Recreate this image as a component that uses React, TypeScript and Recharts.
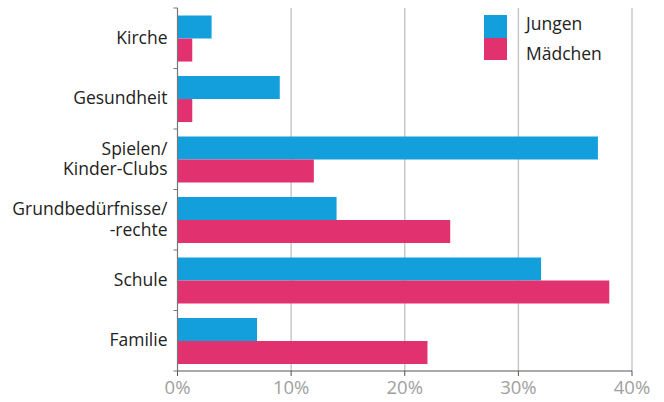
import React from "react"
import { BarChart, Bar, XAxis, YAxis, CartesianGrid, Legend } from "recharts"

const categories = ["Kirche", "Gesundheit", "Spielen/\nKinder-Clubs", "Grundbedürfnisse/\n-rechte", "Schule", "Familie"]
const jungen = [3, 9, 37, 14, 32, 7]
const maedchen = [1.3, 1.3, 12, 24, 38, 22]
const xTicks = [0, 10, 20, 30, 40]

const BLUE = "#129fdc"
const PINK = "#e2316f"
const FONT = "'Open Sans', sans-serif"

const data = categories.map((c, i) => ({ name: c, Jungen: jungen[i], Mädchen: maedchen[i] }))

function CategoryTick(props: any) {
  const { x, y, payload, index } = props
  const half = payload.offset || 30
  const lines = String(payload.value).split("\n")
  const start = -((lines.length - 1) * 20.5) / 2
  return (
    <g>
      <line x1={x + 4} x2={x + 8} y1={y - half} y2={y - half} stroke="#777" />
      {index === categories.length - 1 && (
        <line x1={x + 4} x2={x + 8} y1={y + half} y2={y + half} stroke="#777" />
      )}
      {lines.map((l, i) => (
        <text
          key={i}
          x={x - 2}
          y={y + start + i * 20.5 + 5.5}
          textAnchor="end"
          fill="#222"
          fontSize={17.5}
          fontFamily={FONT}
        >
          {l}
        </text>
      ))}
    </g>
  )
}

function LegendBox() {
  const items = [
    { label: "Jungen", color: BLUE, shift: -3 },
    { label: "Mädchen", color: PINK, shift: 4 },
  ]
  return (
    <div style={{ fontFamily: FONT, fontSize: 17.5, color: "#222", width: 130 }}>
      {items.map((it) => (
        <div key={it.label} style={{ display: "flex", alignItems: "center", height: 22.5 }}>
          <span style={{ width: 23, height: 22.5, background: it.color, display: "inline-block" }} />
          <span style={{ marginLeft: 19, position: "relative", top: it.shift }}>{it.label}</span>
        </div>
      ))}
    </div>
  )
}

export default function App() {
  return (
    <div style={{ position: "absolute", left: 0, top: 0, width: 664, height: 402, background: "#fff" }}>
      <BarChart
        width={664}
        height={402}
        data={data}
        layout="vertical"
        margin={{ top: 8, right: 32, left: 0, bottom: 0 }}
        barCategoryGap="12.5%"
        barGap={0}
      >
        <CartesianGrid horizontal={false} stroke="#c8c8c8" strokeWidth={1.5} />
        <XAxis
          type="number"
          domain={[0, 40]}
          ticks={xTicks}
          tickFormatter={(v) => `${v}%`}
          height={31}
          axisLine={{ stroke: "#555" }}
          tickLine={{ stroke: "#555" }}
          tickSize={5}
          tickMargin={5}
          tick={{ fill: "#a0a0a0", fontSize: 18.5, fontFamily: FONT }}
          interval={0}
        />
        <YAxis
          type="category"
          dataKey="name"
          width={177.5}
          axisLine={{ stroke: "#777" }}
          tickLine={false}
          tick={<CategoryTick />}
          interval={0}
        />
        <Legend
          layout="horizontal"
          verticalAlign="middle"
          align="center"
          wrapperStyle={{ left: 484, top: 15, width: 130 }}
          content={() => <LegendBox />}
        />
        <Bar dataKey="Jungen" fill={BLUE} isAnimationActive={false} />
        <Bar dataKey="Mädchen" fill={PINK} isAnimationActive={false} />
      </BarChart>
    </div>
  )
}
